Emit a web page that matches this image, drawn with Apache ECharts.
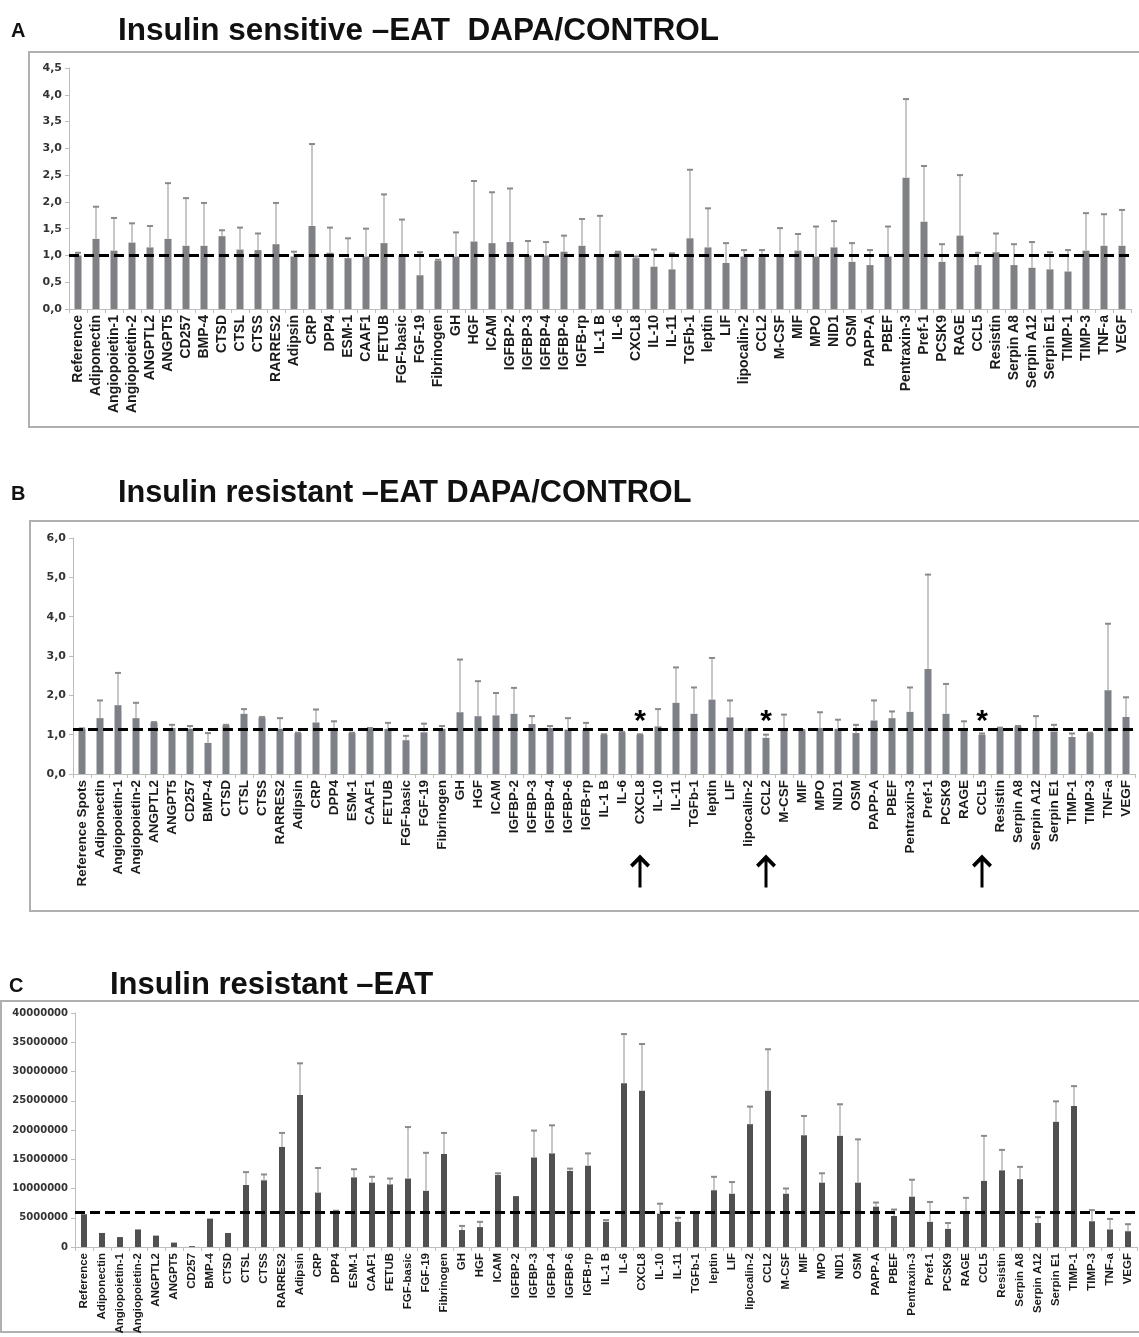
<!DOCTYPE html>
<html><head><meta charset="utf-8">
<script src="https://cdn.jsdelivr.net/npm/echarts@6/dist/echarts.min.js"></script>
<style>html,body{margin:0;padding:0;background:#fff}#c{width:1139px;height:1337px}</style>
</head><body><div id="c"></div>
<script>
const categoriesA = ['Reference','Adiponectin','Angiopoietin-1','Angiopoietin-2','ANGPTL2','ANGPT5','CD257','BMP-4','CTSD','CTSL','CTSS','RARRES2','Adipsin','CRP','DPP4','ESM-1','CAAF1','FETUB','FGF-basic','FGF-19','Fibrinogen','GH','HGF','ICAM','IGFBP-2','IGFBP-3','IGFBP-4','IGFBP-6','IGFB-rp','IL-1 B','IL-6','CXCL8','IL-10','IL-11','TGFb-1','leptin','LIF','lipocalin-2','CCL2','M-CSF','MIF','MPO','NID1','OSM','PAPP-A','PBEF','Pentraxin-3','Pref-1','PCSK9','RAGE','CCL5','Resistin','Serpin A8','Serpin A12','Serpin E1','TIMP-1','TIMP-3','TNF-a','VEGF'];
const categoriesB = ['Reference Spots'].concat(categoriesA.slice(1));
const categoriesC = categoriesA.slice();

// Panel A: insulin sensitive, DAPA/CONTROL ratio (mean, upper error bar end)
const meanA = [1.00,1.31,1.09,1.24,1.15,1.31,1.18,1.18,1.36,1.11,1.10,1.21,0.98,1.55,1.05,0.95,0.98,1.23,1.00,0.63,0.90,0.98,1.26,1.23,1.25,1.00,1.00,1.07,1.18,0.98,1.06,0.95,0.79,0.74,1.32,1.15,0.86,0.98,0.97,0.98,1.09,0.98,1.15,0.88,0.82,0.98,2.45,1.63,0.88,1.37,0.82,1.06,0.82,0.77,0.74,0.70,1.09,1.18,1.18];
const topA  = [1.05,1.91,1.70,1.60,1.55,2.35,2.07,1.98,1.47,1.52,1.41,1.98,1.07,3.08,1.52,1.32,1.50,2.14,1.67,1.06,0.92,1.43,2.39,2.18,2.25,1.27,1.25,1.37,1.68,1.74,1.07,0.98,1.11,1.04,2.60,1.88,1.23,1.10,1.10,1.51,1.40,1.54,1.64,1.23,1.10,1.54,3.92,2.67,1.21,2.50,1.05,1.41,1.21,1.25,1.06,1.10,1.79,1.77,1.85];

// Panel B: insulin resistant, DAPA/CONTROL ratio
const meanB = [1.15,1.42,1.75,1.42,1.31,1.17,1.15,0.79,1.24,1.53,1.44,1.15,1.04,1.31,1.17,1.04,1.15,1.15,0.86,1.06,1.15,1.57,1.47,1.49,1.53,1.27,1.17,1.13,1.12,1.00,1.06,1.00,1.21,1.81,1.53,1.89,1.44,1.12,0.92,1.12,1.11,1.17,1.15,1.04,1.36,1.42,1.58,2.67,1.53,1.12,1.00,1.17,1.21,1.12,1.08,0.94,1.04,2.13,1.45];
const topB  = [1.16,1.87,2.57,1.81,1.32,1.25,1.22,1.04,1.25,1.65,1.45,1.42,1.05,1.64,1.34,1.05,1.17,1.30,0.97,1.28,1.22,2.91,2.36,2.06,2.19,1.47,1.22,1.42,1.30,1.01,1.07,1.01,1.65,2.71,2.20,2.95,1.87,1.14,1.00,1.51,1.12,1.57,1.38,1.25,1.87,1.59,2.20,5.07,2.29,1.34,1.03,1.18,1.22,1.47,1.25,1.03,1.05,3.82,1.95];

// Panel C: insulin resistant EAT, raw signal (millions)
const meanC = [5.6,2.4,1.7,3.0,1.95,0.75,0.15,4.85,2.4,10.6,11.4,17.1,26.0,9.3,5.9,11.9,11.0,10.7,11.7,9.6,15.9,2.9,3.4,12.3,8.7,15.3,16.0,13.0,13.9,4.3,28.0,26.7,5.7,4.3,5.7,9.7,9.1,21.0,26.7,9.1,19.1,11.0,19.0,11.0,6.9,5.3,8.6,4.3,3.1,6.1,11.3,13.1,11.6,4.1,21.4,24.1,4.4,3.0,2.7];
const topC  = [5.6,2.4,1.7,3.0,1.95,0.75,0.15,4.85,2.4,12.8,12.4,19.5,31.4,13.5,6.2,13.3,12.0,11.7,20.5,16.1,19.5,3.6,4.3,12.6,8.7,19.9,20.8,13.4,16.0,4.6,36.4,34.7,7.4,5.0,5.9,12.0,11.1,24.0,33.8,10.0,22.4,12.6,24.4,18.4,7.6,6.4,11.5,7.7,4.1,8.4,19.0,16.6,13.7,5.1,24.9,27.5,6.3,4.8,3.9];

const refLineA = 1.0, refLineB = 1.15, refLineC = 5.9e6;
const starCats = ['CXCL8','CCL2','CCL5'];
const titles = ['Insulin sensitive \u2013EAT  DAPA/CONTROL','Insulin resistant \u2013EAT DAPA/CONTROL','Insulin resistant \u2013EAT'];

const FONT = '"Liberation Sans", Arial, sans-serif';
const NUMFONT = '"DejaVu Sans", sans-serif';
const chart = echarts.init(document.getElementById('c'), null, {renderer:'canvas'});

function errRender(params, api){
  const x = api.value(0), m = api.value(1), t = api.value(2);
  if (t - m <= 0) return null;
  const p0 = api.coord([x, m]), p1 = api.coord([x, t]);
  return {type:'group', children:[
    {type:'line', shape:{x1:p0[0],y1:p0[1],x2:p1[0],y2:p1[1]}, style:{stroke:'#b4b4b4', lineWidth:1.5}},
    {type:'line', shape:{x1:p1[0]-3,y1:p1[1],x2:p1[0]+3,y2:p1[1]}, style:{stroke:'#8a8a8a', lineWidth:2}}
  ]};
}
function dashLine(v){
  return {silent:true, symbol:'none', label:{show:false},
    lineStyle:{color:'#000', type:[10,5], width:3}, data:[{yAxis:v}]};
}
const commaFmt = v => v.toFixed(1).replace('.', ',');
const xAxisBase = (cats, idx, fs) => ({
  type:'category', gridIndex:idx, data:cats,
  axisLine:{lineStyle:{color:'#bdbdbd', width:1}},
  axisTick:{show:true, length:4, lineStyle:{color:'#bdbdbd'}},
  axisLabel:{interval:0, rotate:90, fontFamily:FONT, fontWeight:'bold', fontSize:fs, color:'#1a1a1a', margin:6}
});
const yAxisBase = (idx, max, interval, fmt, fs) => ({
  type:'value', gridIndex:idx, min:0, max:max, interval:interval,
  splitLine:{show:false},
  axisLine:{show:true, lineStyle:{color:'#bdbdbd'}},
  axisTick:{show:true, length:4, lineStyle:{color:'#bdbdbd'}},
  axisLabel:{formatter:fmt, fontFamily:NUMFONT, fontWeight:'bold', fontSize:fs, color:'#333', margin:7}
});
const arrowPath = 'path://M10,0 L20,10 L17.4,12.6 L11.5,6.8 L11.5,32 L8.5,32 L8.5,6.8 L2.6,12.6 L0,10 Z';

const option = {
  animation:false,
  grid:[
    {left:69, top:68, width:1062, height:241},
    {left:73, top:538, width:1062, height:236},
    {left:75, top:1013, width:1062, height:234}
  ],
  xAxis:[xAxisBase(categoriesA,0,14), xAxisBase(categoriesB,1,13.5), xAxisBase(categoriesC,2,11.5)],
  yAxis:[
    yAxisBase(0,4.5,0.5,commaFmt,11),
    yAxisBase(1,6,1,commaFmt,11),
    yAxisBase(2,40000000,5000000,v=>String(v),10)
  ],
  series:[
    {type:'bar', xAxisIndex:0, yAxisIndex:0, data:meanA, barWidth:7, itemStyle:{color:'#7f8083'}, z:2},
    {type:'custom', xAxisIndex:0, yAxisIndex:0, renderItem:errRender, z:3,
      data:meanA.map((m,i)=>[i,m,topA[i]]), markLine:dashLine(refLineA)},
    {type:'bar', xAxisIndex:1, yAxisIndex:1, data:meanB, barWidth:7, itemStyle:{color:'#7d8087'}, z:2,
      markPoint:{silent:true, data:
        starCats.map(c=>({coord:[c,1.32], symbol:'circle', symbolSize:1, itemStyle:{color:'rgba(0,0,0,0)'},
          label:{show:true, position:'inside', formatter:'*', fontFamily:FONT, fontWeight:'bold', fontSize:30, color:'#000'}}))
        .concat(starCats.map(c=>({coord:[c,0], symbol:arrowPath, symbolSize:[20,33], symbolOffset:[0,97],
          itemStyle:{color:'#000'}, label:{show:false}})))
      }},
    {type:'custom', xAxisIndex:1, yAxisIndex:1, renderItem:errRender, z:3,
      data:meanB.map((m,i)=>[i,m,topB[i]]), markLine:dashLine(refLineB)},
    {type:'bar', xAxisIndex:2, yAxisIndex:2, data:meanC.map(v=>v*1e6), barWidth:6, itemStyle:{color:'#505050'}, z:2},
    {type:'custom', xAxisIndex:2, yAxisIndex:2, renderItem:errRender, z:3,
      data:meanC.map((m,i)=>[i,m*1e6,topC[i]*1e6]), markLine:dashLine(refLineC)}
  ],
  graphic:[
    {type:'rect', shape:{x:29,y:52,width:1130,height:375}, style:{fill:'none', stroke:'#b0b0b0', lineWidth:2}},
    {type:'rect', shape:{x:30,y:521,width:1130,height:390}, style:{fill:'none', stroke:'#b0b0b0', lineWidth:2}},
    {type:'rect', shape:{x:1,y:1001,width:1160,height:331}, style:{fill:'none', stroke:'#b0b0b0', lineWidth:2}},
    {type:'text', x:11, y:31, style:{text:'A', font:'bold 20px '+FONT, fill:'#111', textVerticalAlign:'middle'}},
    {type:'text', x:11, y:494, style:{text:'B', font:'bold 20px '+FONT, fill:'#111', textVerticalAlign:'middle'}},
    {type:'text', x:9, y:986, style:{text:'C', font:'bold 20px '+FONT, fill:'#111', textVerticalAlign:'middle'}},
    {type:'text', x:118, y:31, style:{text:titles[0], font:'bold 31.5px '+FONT, fill:'#111', textVerticalAlign:'middle'}},
    {type:'text', x:118, y:494, style:{text:titles[1], font:'bold 30.7px '+FONT, fill:'#111', textVerticalAlign:'middle'}},
    {type:'text', x:110, y:985, style:{text:titles[2], font:'bold 31px '+FONT, fill:'#111', textVerticalAlign:'middle'}}
  ]
};
chart.setOption(option);
</script></body></html>
